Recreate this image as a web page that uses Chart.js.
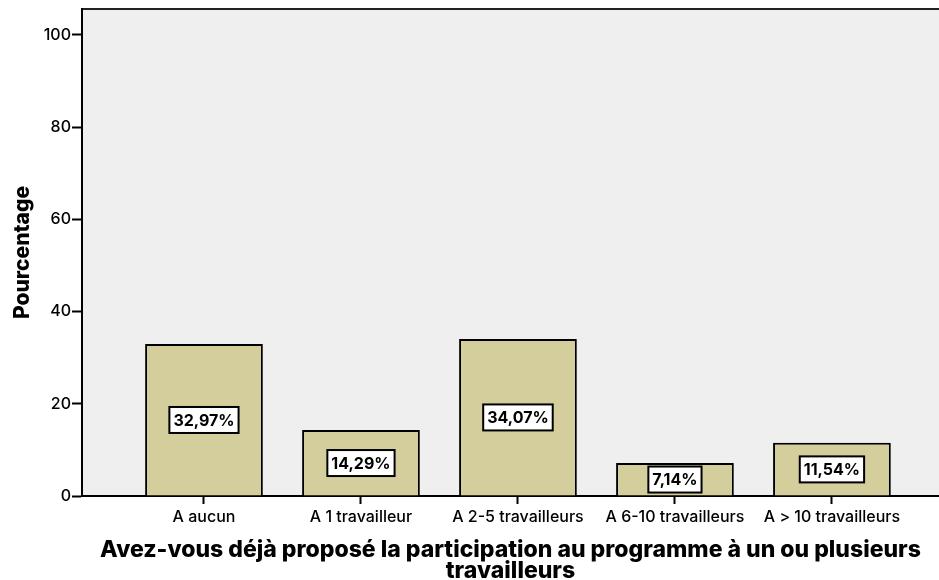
<!DOCTYPE html>
<html>
<head>
<meta charset="utf-8">
<script src="https://cdn.jsdelivr.net/npm/chart.js@4/dist/chart.umd.min.js"></script>
<style>
  html, body { margin: 0; padding: 0; background: #fff; }
  #wrap { width: 939px; height: 580px; }
</style>
</head>
<body>
<div id="wrap"><canvas id="barChart"></canvas></div>
<script>
// Categories and percentages
var categories = ['A aucun', 'A 1 travailleur', 'A 2-5 travailleurs', 'A 6-10 travailleurs', 'A > 10 travailleurs'];
var percentages = [32.97, 14.29, 34.07, 7.14, 11.54];
var percentLabels = ['32,97%', '14,29%', '34,07%', '7,14%', '11,54%'];
var yTicks = [0, 20, 40, 60, 80, 100];
var xTitle = ['Avez-vous déjà proposé la participation au programme à un ou plusieurs', 'travailleurs'];
var yTitle = 'Pourcentage';

var FONT = 'Inter, "Liberation Sans", Arial, sans-serif';

// grey plot background + top frame line
var plotBackground = {
    id: 'plotBackground',
    beforeDraw: function(chart) {
        var ctx = chart.ctx, a = chart.chartArea;
        ctx.save();
        ctx.fillStyle = '#efefef';
        ctx.fillRect(a.left, a.top, a.right - a.left, a.bottom - a.top);
        ctx.strokeStyle = '#222';
        ctx.lineWidth = 2;
        ctx.beginPath();
        ctx.moveTo(a.left, a.top);
        ctx.lineTo(a.right, a.top);
        ctx.stroke();
        ctx.restore();
    }
};

// boxed value labels in the middle of each bar
var boxedLabels = {
    id: 'boxedLabels',
    afterDatasetsDraw: function(chart) {
        var ctx = chart.ctx;
        var xs = chart.scales.x, ys = chart.scales.y;
        ctx.save();
        ctx.font = '700 16px ' + FONT;
        ctx.textAlign = 'center';
        ctx.textBaseline = 'middle';
        percentages.forEach(function(v, i) {
            var cx = xs.getPixelForValue(i);
            var cy = ys.getPixelForValue(v / 2);
            var w = ctx.measureText(percentLabels[i]).width + 8;
            var h = 26;
            ctx.fillStyle = '#fff';
            ctx.fillRect(cx - w / 2, cy - h / 2, w, h);
            ctx.strokeStyle = '#000';
            ctx.lineWidth = 2;
            ctx.strokeRect(cx - w / 2, cy - h / 2, w, h);
            ctx.fillStyle = '#000';
            ctx.fillText(percentLabels[i], cx, cy + 1);
        });
        ctx.restore();
    }
};

var ctx = document.getElementById('barChart').getContext('2d');
var barChart = new Chart(ctx, {
    type: 'bar',
    data: {
        datasets: [{
            data: percentages.map(function(v, i) { return { x: i, y: v }; }),
            backgroundColor: '#d3ce9b',
            borderColor: '#000',
            borderWidth: 2,
            borderSkipped: 'bottom',
            barPercentage: 0.75,
            categoryPercentage: 1
        }]
    },
    plugins: [plotBackground, boxedLabels],
    options: {
        responsive: true,
        maintainAspectRatio: false,
        animation: false,
        layout: { padding: { top: 8, left: 0, right: 0, bottom: 0 } },
        scales: {
            x: {
                type: 'linear',
                offset: false,
                min: -0.777,
                max: 4.682,
                afterBuildTicks: function(scale) {
                    scale.ticks = categories.map(function(c, i) { return { value: i }; });
                },
                afterFit: function(scale) { scale.height = 84; },
                ticks: {
                    autoSkip: false,
                    maxRotation: 0,
                    padding: 4,
                    color: '#000',
                    font: { family: FONT, size: 16, weight: '500' },
                    callback: function(value) { return categories[value]; }
                },
                grid: { offset: false, drawOnChartArea: false, drawTicks: true, tickLength: 8, color: '#000', tickWidth: 2 },
                border: { color: '#000', width: 2 },
                title: {
                    display: true,
                    text: xTitle,
                    color: '#000',
                    padding: { top: 6, bottom: -2 },
                    font: { family: FONT, size: 23, weight: '800', lineHeight: 0.92 }
                }
            },
            y: {
                min: 0,
                max: 105.6,
                afterBuildTicks: function(scale) {
                    scale.ticks = yTicks.map(function(v) { return { value: v }; });
                },
                afterFit: function(scale) { scale.width = 82; },
                ticks: {
                    padding: 1,
                    color: '#000',
                    font: { family: FONT, size: 16, weight: '500', lineHeight: 1.0 }
                },
                grid: { drawOnChartArea: false, drawTicks: true, tickLength: 10, color: '#000', tickWidth: 2 },
                border: { color: '#000', width: 2 },
                title: {
                    display: true,
                    text: yTitle,
                    color: '#000',
                    padding: { top: 12, bottom: 4 },
                    font: { family: FONT, size: 21, weight: '800', lineHeight: 1.0 }
                }
            }
        },
        plugins: {
            legend: { display: false },
            tooltip: { enabled: false }
        }
    }
});
</script>
</body>
</html>
